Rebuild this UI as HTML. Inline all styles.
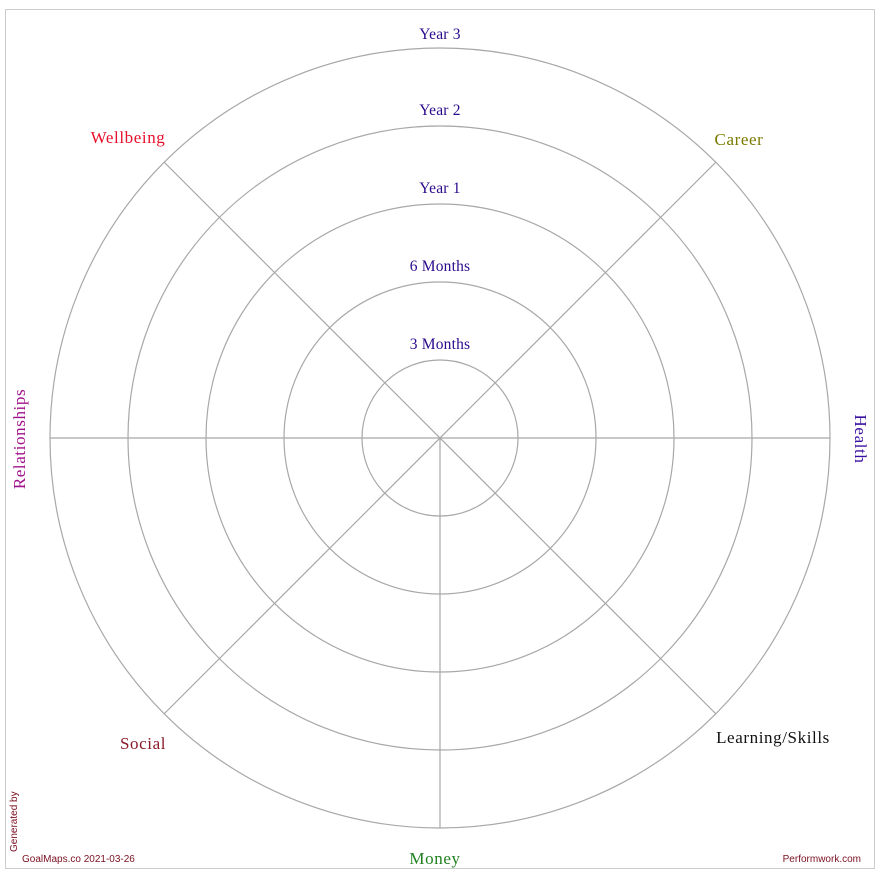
<!DOCTYPE html>
<html><head><meta charset="utf-8"><style>
html,body{margin:0;padding:0;background:#fff;width:884px;height:877px;overflow:hidden}
svg{display:block}
text{font-family:"Liberation Serif",serif;font-size:17px;letter-spacing:0.6px}
.y{fill:#2a0a8c;font-size:15.5px;letter-spacing:0.2px}
.s{font-family:"Liberation Sans",sans-serif;font-size:10px;fill:#7a1020;letter-spacing:0}
</style></head><body>
<svg width="884" height="877" viewBox="0 0 884 877">
<rect x="5.5" y="9.5" width="869" height="859" fill="none" stroke="#ccc"/>
<g fill="none" stroke="#a8a8a8" stroke-width="1.2">
<circle cx="440" cy="438" r="78"/>
<circle cx="440" cy="438" r="156"/>
<circle cx="440" cy="438" r="234"/>
<circle cx="440" cy="438" r="312"/>
<circle cx="440" cy="438" r="390"/>
<line x1="50" y1="438" x2="830" y2="438"/>
<line x1="440" y1="438" x2="440" y2="828"/>
<line x1="164" y1="162" x2="716" y2="714"/>
<line x1="716" y1="162" x2="164" y2="714"/>
</g>
<text class="y" x="440" y="39" text-anchor="middle">Year 3</text>
<text class="y" x="440" y="115" text-anchor="middle">Year 2</text>
<text class="y" x="440" y="193" text-anchor="middle">Year 1</text>
<text class="y" x="440" y="271" text-anchor="middle">6 Months</text>
<text class="y" x="440" y="349" text-anchor="middle">3 Months</text>
<text x="128" y="143" text-anchor="middle" fill="#e8102c">Wellbeing</text>
<text x="739" y="145" text-anchor="middle" fill="#7a7a00">Career</text>
<text x="773" y="743" text-anchor="middle" fill="#111">Learning/Skills</text>
<text x="143" y="749" text-anchor="middle" fill="#8a1a2a">Social</text>
<text x="435" y="864" text-anchor="middle" fill="#208020">Money</text>
<text transform="translate(855,439) rotate(90)" text-anchor="middle" fill="#3a10a0">Health</text>
<text transform="translate(25,439) rotate(-90)" text-anchor="middle" fill="#a0108a">Relationships</text>
<text class="s" transform="translate(17,852) rotate(-90)">Generated by</text>
<text class="s" x="22" y="862">GoalMaps.co 2021-03-26</text>
<text class="s" x="861" y="862" text-anchor="end">Performwork.com</text>
</svg>
</body></html>
